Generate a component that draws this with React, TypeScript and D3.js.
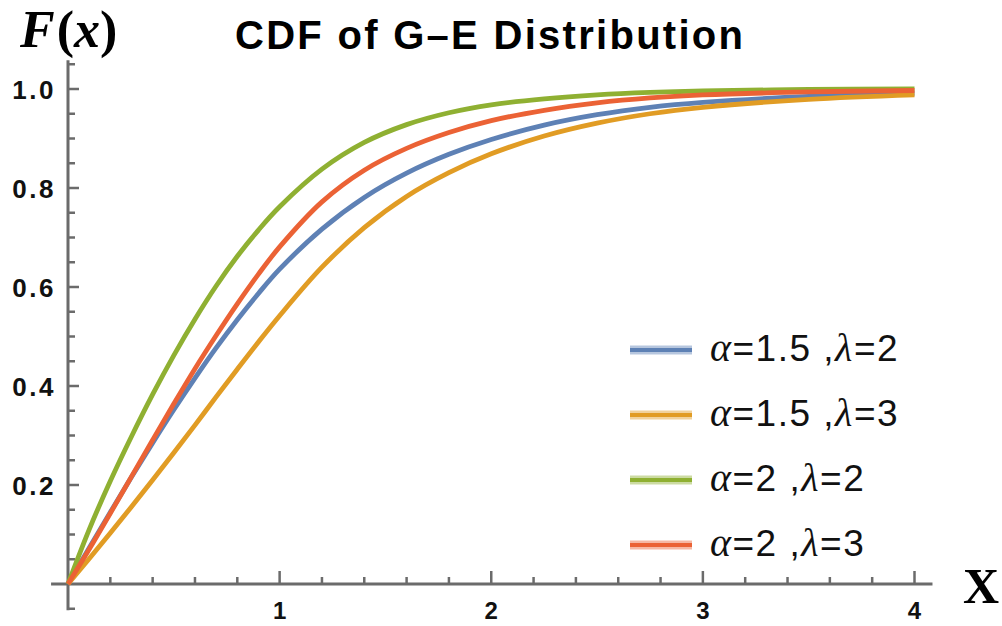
import React from "react";
import * as d3 from "d3";

// CDF values of the G–E distribution for four parameter pairs
const xs = [0, 0.1, 0.2, 0.3, 0.4, 0.5, 0.6, 0.7, 0.8, 0.9, 1.0, 1.2, 1.4, 1.6, 1.8, 2.0, 2.25, 2.5, 2.75, 3.0, 3.5, 4.0];
const blueA15L2 = [0, 0.073, 0.145, 0.216, 0.285, 0.352, 0.416, 0.477, 0.534, 0.587, 0.636, 0.717, 0.781, 0.83, 0.868, 0.898, 0.927, 0.948, 0.963, 0.973, 0.985, 0.991];
const orangeA15L3 = [0, 0.051, 0.103, 0.156, 0.21, 0.265, 0.321, 0.378, 0.434, 0.489, 0.542, 0.64, 0.72, 0.783, 0.831, 0.869, 0.905, 0.931, 0.95, 0.963, 0.979, 0.988];
const greenA2L2 = [0, 0.11, 0.208, 0.298, 0.383, 0.462, 0.535, 0.602, 0.662, 0.715, 0.762, 0.838, 0.892, 0.928, 0.952, 0.968, 0.98, 0.988, 0.993, 0.996, 0.999, 1.0];
const redA2L3 = [0, 0.07, 0.143, 0.217, 0.291, 0.364, 0.435, 0.502, 0.566, 0.626, 0.681, 0.772, 0.836, 0.88, 0.912, 0.936, 0.957, 0.972, 0.982, 0.988, 0.994, 0.997];

const seriesAlpha = ["1.5", "1.5", "2", "2"];
const seriesLambda = ["2", "3", "2", "3"];
const seriesColor = ["#5E81B5", "#E19C24", "#8FB032", "#EB6235"];
const seriesValues = [blueA15L2, orangeA15L3, greenA2L2, redA2L3];

const xTickLabels = ["1", "2", "3", "4"];
const yTickLabels = ["0.2", "0.4", "0.6", "0.8", "1.0"];

const W = 1002;
const H = 626;

export default function App() {
  const x = d3.scaleLinear().domain([0, 4]).range([68, 914.5]);
  const y = d3.scaleLinear().domain([0, 1]).range([584, 89]);

  const line = d3
    .line<[number, number]>()
    .x((d) => x(d[0]))
    .y((d) => y(d[1]))
    .curve(d3.curveCatmullRom.alpha(0.5));

  const axisColor = "#6b6b6b";
  const textColor = "#111";

  const xMinor = d3.range(1, 20).map((i) => i * 0.2).filter((v) => Math.abs(v - Math.round(v)) > 1e-6);
  const xMajor = xTickLabels.map(Number);
  const yMinor = d3.range(-1, 22).map((i) => i * 0.05).filter((v) => Math.abs(v * 5 - Math.round(v * 5)) > 1e-6);
  const yMajor = yTickLabels.map(Number);

  return (
    <svg
      width={W}
      height={H}
      style={{ position: "absolute", left: 0, top: 0, background: "#fff" }}
      xmlns="http://www.w3.org/2000/svg"
    >
      <rect x={0} y={0} width={W} height={H} fill="#fff" />

      {/* title */}
      <text
        x={235}
        y={49}
        fontFamily="'Liberation Sans', Arial, sans-serif"
        fontWeight="bold"
        fontSize={40}
        fill="#000"
        textLength={508}
        lengthAdjust="spacing"
      >
        CDF of G–E Distribution
      </text>

      {/* y axis label */}
      <text x={20} y={47} fontFamily="'Liberation Serif', 'Times New Roman', serif" fontWeight="bold" fontSize={52} fill="#000">
        <tspan fontStyle="italic">F</tspan>
        <tspan dx={2}>(</tspan>
        <tspan fontStyle="italic">x</tspan>
        <tspan>)</tspan>
      </text>

      {/* x axis label */}
      <text x={963} y={603} fontFamily="'Liberation Serif', 'Times New Roman', serif" fontWeight="bold" fontSize={50} fill="#000">
        X
      </text>

      {/* axes */}
      <line x1={x(-0.08)} x2={x(4.085)} y1={y(0)} y2={y(0)} stroke={axisColor} strokeWidth={3} />
      <line x1={x(0)} x2={x(0)} y1={y(-0.053)} y2={y(1.058)} stroke={axisColor} strokeWidth={3} />

      {xMinor.map((v) => (
        <line key={"xm" + v} x1={x(v)} x2={x(v)} y1={y(0)} y2={y(0) - 7} stroke={axisColor} strokeWidth={2.5} />
      ))}
      {xMajor.map((v) => (
        <line key={"xM" + v} x1={x(v)} x2={x(v)} y1={y(0)} y2={y(0) - 13} stroke={axisColor} strokeWidth={2.5} />
      ))}
      {yMinor.map((v) => (
        <line key={"ym" + v} x1={x(0)} x2={x(0) + 7} y1={y(v)} y2={y(v)} stroke={axisColor} strokeWidth={2.5} />
      ))}
      {yMajor.map((v) => (
        <line key={"yM" + v} x1={x(0)} x2={x(0) + 11} y1={y(v)} y2={y(v)} stroke={axisColor} strokeWidth={2.5} />
      ))}

      {/* tick labels */}
      {xTickLabels.map((t) => (
        <text
          key={"xl" + t}
          x={x(+t)}
          y={619}
          textAnchor="middle"
          fontFamily="'Liberation Sans', Arial, sans-serif"
          fontWeight="bold"
          fontSize={24}
          fill={textColor}
        >
          {t}
        </text>
      ))}
      {yTickLabels.map((t) => (
        <text
          key={"yl" + t}
          x={56}
          y={y(+t) + 9.5}
          textAnchor="end"
          fontFamily="'Liberation Sans', Arial, sans-serif"
          fontWeight="bold"
          fontSize={26}
          letterSpacing={2.5}
          fill={textColor}
        >
          {t}
        </text>
      ))}

      {/* curves */}
      {seriesValues.map((vals, i) => (
        <path
          key={"s" + i}
          d={line(xs.map((xv, j) => [xv, vals[j]] as [number, number])) || ""}
          fill="none"
          stroke={seriesColor[i]}
          strokeWidth={4.8}
          strokeLinejoin="round"
        />
      ))}

      {/* legend */}
      {seriesColor.map((c, i) => {
        const cy = 350 + i * 65;
        return (
          <g key={"lg" + i}>
            <line x1={630} x2={692} y1={cy} y2={cy} stroke={c} strokeOpacity={0.45} strokeWidth={9} />
            <line x1={630} x2={692} y1={cy} y2={cy} stroke={c} strokeWidth={4} />
            <text
              x={710}
              y={cy + 11}
              fontFamily="'Liberation Sans', Arial, sans-serif"
              fontSize={37}
              letterSpacing={1.5}
              fill={textColor}
            >
              <tspan fontFamily="'Liberation Serif', 'Times New Roman', serif" fontStyle="italic" fontSize={40}>
                α
              </tspan>
              <tspan>{"=" + seriesAlpha[i] + " ,"}</tspan>
              <tspan fontFamily="'Liberation Serif', 'Times New Roman', serif" fontStyle="italic" fontSize={40}>
                λ
              </tspan>
              <tspan>{"=" + seriesLambda[i]}</tspan>
            </text>
          </g>
        );
      })}
    </svg>
  );
}
